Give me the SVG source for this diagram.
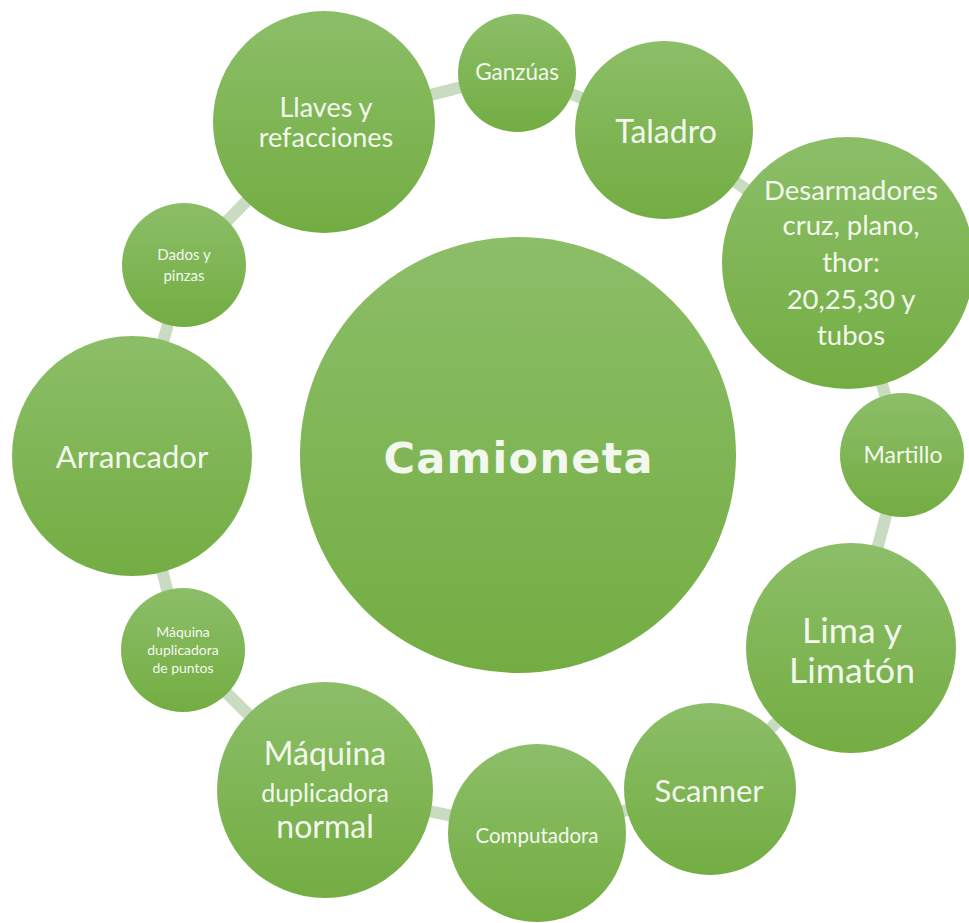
<svg xmlns="http://www.w3.org/2000/svg" width="969" height="923" viewBox="0 0 969 923">
<defs>
<linearGradient id="g" x1="0" y1="0" x2="0" y2="1">
<stop offset="0" stop-color="#8cbe68"/>
<stop offset="1" stop-color="#73ad42"/>
</linearGradient>
<style>
.n{fill:url(#g);}
.t{fill:#f3f8ee;font-family:Lato,"Liberation Sans",sans-serif;text-anchor:middle;}
.c{stroke:#c9dbc1;stroke-width:12;fill:none;}
</style>
</defs>
<rect width="969" height="923" fill="#ffffff"/>
<g id="connectors">
<line class="c" x1="517" y1="73" x2="664" y2="130"/>
<line class="c" x1="664" y1="130" x2="848" y2="263"/>
<line class="c" x1="848" y1="263" x2="902" y2="455"/>
<line class="c" x1="902" y1="455" x2="851" y2="648"/>
<line class="c" x1="851" y1="648" x2="710" y2="789"/>
<line class="c" x1="710" y1="789" x2="537" y2="833"/>
<line class="c" x1="537" y1="833" x2="325" y2="790"/>
<line class="c" x1="325" y1="790" x2="183" y2="650"/>
<line class="c" x1="183" y1="650" x2="132" y2="456"/>
<line class="c" x1="132" y1="456" x2="184" y2="265"/>
<line class="c" x1="184" y1="265" x2="324" y2="122"/>
<line class="c" x1="324" y1="122" x2="517" y2="73"/>
</g>
<g id="camioneta">
<circle class="n" cx="518" cy="455" r="218"/>
<text class="t" x="518" y="473" font-size="43" font-weight="bold" style="font-family:'DejaVu Sans',sans-serif" textLength="269" lengthAdjust="spacing">Camioneta</text>
</g>
<g id="ganzuas">
<circle class="n" cx="517" cy="73" r="59"/>
<text class="t" x="517" y="80" font-size="22.5">Ganzúas</text>
</g>
<g id="taladro">
<circle class="n" cx="664" cy="130" r="89"/>
<text class="t" x="666" y="143" font-size="32">Taladro</text>
</g>
<g id="desarmadores">
<circle class="n" cx="848" cy="263" r="126"/>
<text class="t" font-size="27.5"><tspan x="851" y="200">Desarmadores</tspan><tspan x="851" y="235">cruz, plano,</tspan><tspan x="851" y="272">thor:</tspan><tspan x="851" y="309">20,25,30 y</tspan><tspan x="851" y="345">tubos</tspan></text>
</g>
<g id="martillo">
<circle class="n" cx="902" cy="455" r="62"/>
<text class="t" x="903" y="463" font-size="23">Martillo</text>
</g>
<g id="lima">
<circle class="n" cx="851" cy="648" r="105"/>
<text class="t" font-size="35.5"><tspan x="852" y="643">Lima y</tspan><tspan x="852" y="683">Limatón</tspan></text>
</g>
<g id="scanner">
<circle class="n" cx="710" cy="789" r="86"/>
<text class="t" x="709" y="802" font-size="31">Scanner</text>
</g>
<g id="computadora">
<circle class="n" cx="537" cy="833" r="89"/>
<text class="t" x="537" y="843" font-size="20.5">Computadora</text>
</g>
<g id="maquina-normal">
<circle class="n" cx="325" cy="790" r="108"/>
<text class="t"><tspan x="325" y="765" font-size="32">Máquina</tspan><tspan x="325" y="802" font-size="25">duplicadora</tspan><tspan x="325" y="838" font-size="32">normal</tspan></text>
</g>
<g id="maquina-puntos">
<circle class="n" cx="183" cy="650" r="62"/>
<text class="t" font-size="14"><tspan x="183" y="637">Máquina</tspan><tspan x="183" y="655">duplicadora</tspan><tspan x="183" y="673">de puntos</tspan></text>
</g>
<g id="arrancador">
<circle class="n" cx="132" cy="456" r="120"/>
<text class="t" x="132" y="468" font-size="31">Arrancador</text>
</g>
<g id="dados">
<circle class="n" cx="184" cy="265" r="62"/>
<text class="t" font-size="15"><tspan x="184" y="260">Dados y</tspan><tspan x="184" y="281">pinzas</tspan></text>
</g>
<g id="llaves">
<circle class="n" cx="324" cy="122" r="111"/>
<text class="t" font-size="27"><tspan x="326" y="117">Llaves y</tspan><tspan x="326" y="147">refacciones</tspan></text>
</g>
</svg>
